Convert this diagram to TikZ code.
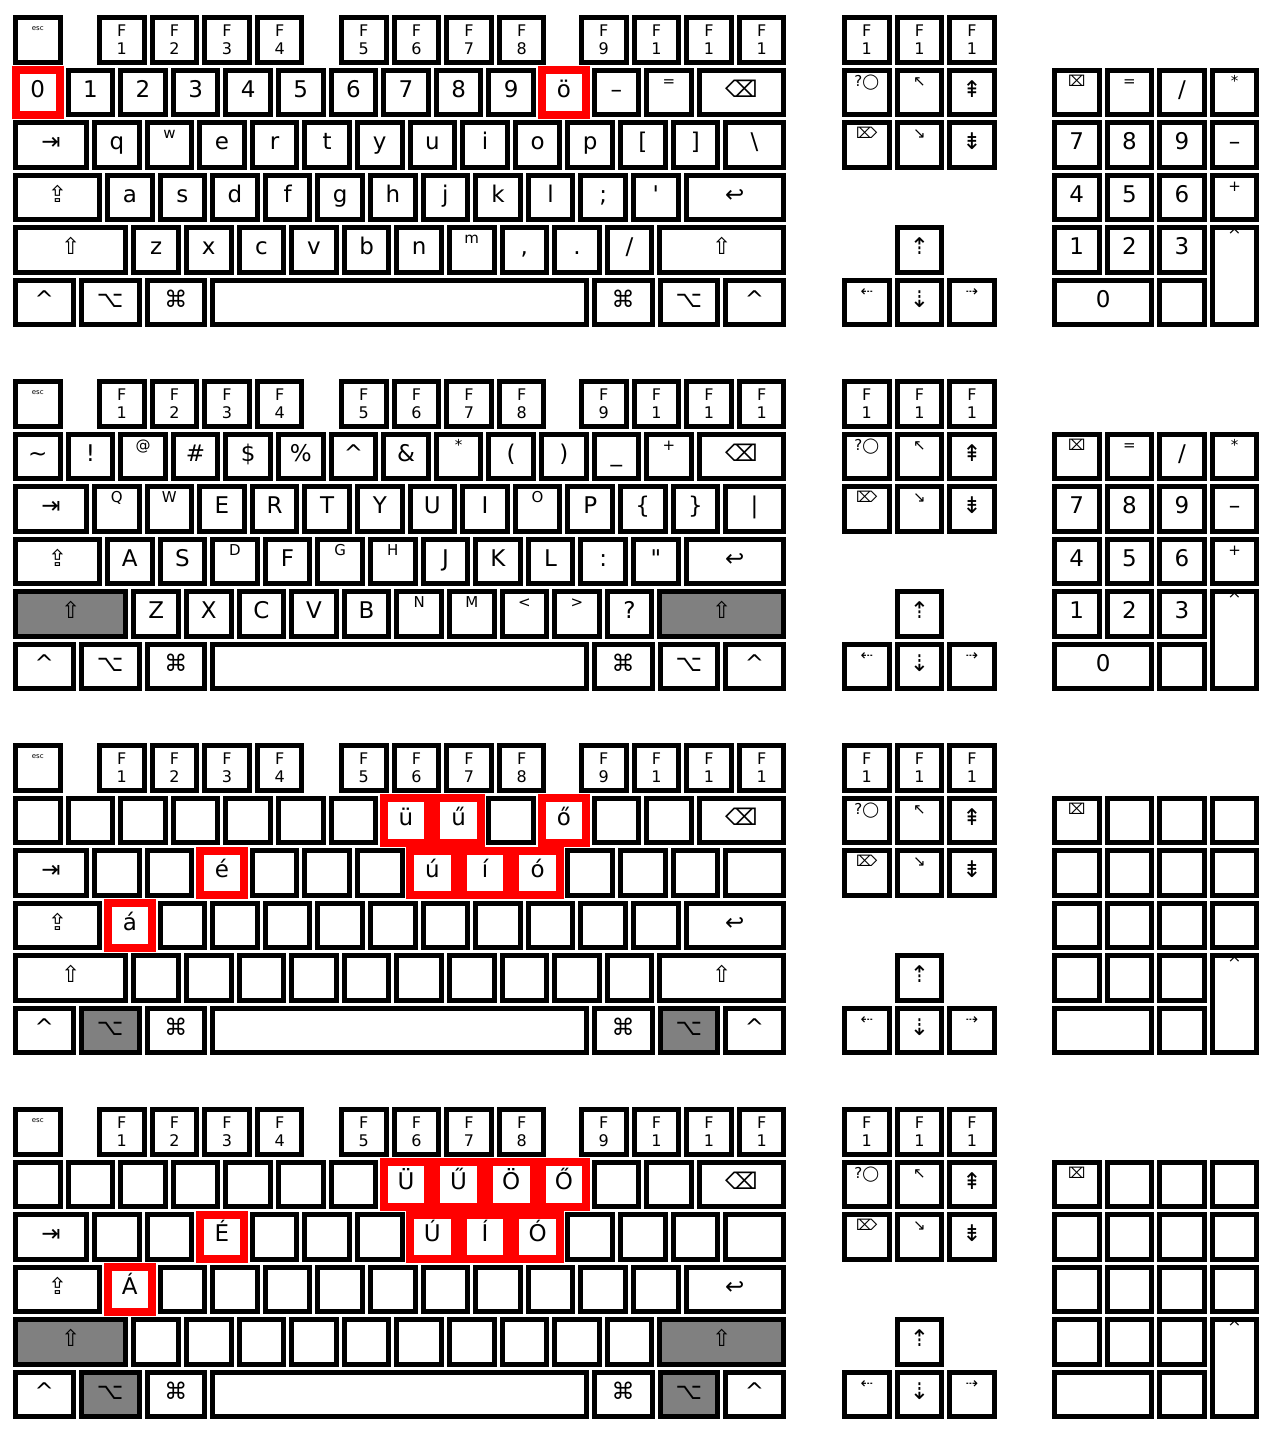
\documentclass[tikz,border=0pt]{standalone}
\usepackage{fontspec}
\setmainfont{DejaVu Sans}
\tikzset{
  key/.style={draw,line width=5pt,fill=white,inner sep=0pt,
    font=\fontsize{23}{23}\selectfont,text height=12pt,text depth=2pt},
  kw/.style={},
  kr/.style={draw=red,line width=8pt},
  kg/.style={fill=gray},
  hi/.style={font=\fontsize{15}{15}\selectfont,text height=0pt,text depth=12pt},
  fn/.style={font=\fontsize{16}{18}\selectfont,align=center,text height=,text depth=},
  esclab/.style={font=\fontsize{7}{7}\selectfont,text height=0pt,text depth=18pt}
}
\def\kp{52.6}
\def\rp{52.5}
\def\ks{49.6}
% style, name, left, top, width, height, label
\newcommand\keynode[7]{%
  \node[key,#1,minimum width={(#5)-5},minimum height={(#6)-5}] (#2) at ({(#3)+(#5)/2},{(#4)+(#6)/2}) {#7};}
\newcommand\krow[4]{%
  \foreach \lab/\sty [count=\i from 0] in {#4}{\keynode{\sty}{#1\i}{#2+\i*\kp}{#3}{\ks}{\ks}{\lab}}}
\newcommand\numpad[4]{%
  \foreach \lab/\sty [count=\i from 0] in {#3}{%
    \pgfmathsetmacro\cl{mod(\i,4)}%
    \pgfmathsetmacro\rw{int(\i/4)+1}%
    \keynode{\sty}{#2n\i}{1052+\cl*\kp}{#1+\rw*\rp}{\ks}{\ks}{\lab}}
  \keynode{kw}{#2zero}{1052}{#1+5*\rp}{102.2}{\ks}{#4}
  \keynode{kw}{#2dot}{1157.2}{#1+5*\rp}{\ks}{\ks}{}
  \keynode{hi,text depth=78pt}{#2ent}{1209.8}{#1+4*\rp}{\ks}{\rp+\ks}{⌤}}
% top, prefix, shift style, option style
\newcommand\board[4]{%
  \keynode{esclab}{#2esc}{13}{#1}{\ks}{\ks}{esc}
  \foreach \fk/\x [count=\i] in {1/97,2/149.6,3/202.2,4/254.8,5/339,6/391.6,7/444.2,8/496.8,9/579,1/631.6,1/684.2,1/736.8}{%
    \keynode{fn}{#2f\i}{\x}{#1}{\ks}{\ks}{F\\\fk}}
  \foreach \x [count=\i] in {842,894.6,947.2}{\keynode{fn}{#2g\i}{\x}{#1}{\ks}{\ks}{F\\1}}
  \foreach \lab/\sty/\x [count=\i] in {?◯/hi/842,↖/hi/894.6,⇞/kw/947.2}{\keynode{\sty}{#2h\i}{\x}{#1+\rp}{\ks}{\ks}{\lab}}
  \foreach \lab/\sty/\x [count=\i] in {⌦/hi/842,↘/hi/894.6,⇟/kw/947.2}{\keynode{\sty}{#2e\i}{\x}{#1+2*\rp}{\ks}{\ks}{\lab}}
  \keynode{kw}{#2up}{894.6}{#1+4*\rp}{\ks}{\ks}{⇡}
  \keynode{hi}{#2left}{842}{#1+5*\rp}{\ks}{\ks}{⇠}
  \keynode{kw}{#2down}{894.6}{#1+5*\rp}{\ks}{\ks}{⇣}
  \keynode{hi}{#2right}{947.2}{#1+5*\rp}{\ks}{\ks}{⇢}
  \keynode{kw}{#2bsp}{696.8}{#1+\rp}{89.2}{\ks}{⌫}
  \keynode{kw}{#2tab}{13}{#1+2*\rp}{76}{\ks}{⇥}
  \keynode{kw}{#2caps}{13}{#1+3*\rp}{89}{\ks}{⇪}
  \keynode{kw}{#2ret}{683.6}{#1+3*\rp}{102.4}{\ks}{↩}
  \keynode{#3}{#2lsh}{13}{#1+4*\rp}{115.35}{\ks}{⇧}
  \keynode{#3}{#2rsh}{657.35}{#1+4*\rp}{128.65}{\ks}{⇧}
  \keynode{kw}{#2lctl}{13}{#1+5*\rp}{62.75}{\ks}{\textasciicircum}
  \keynode{#4}{#2lalt}{78.75}{#1+5*\rp}{62.75}{\ks}{⌥}
  \keynode{kw}{#2lcmd}{144.5}{#1+5*\rp}{62.75}{\ks}{⌘}
  \keynode{kw}{#2space}{210.25}{#1+5*\rp}{378.5}{\ks}{}
  \keynode{kw}{#2rcmd}{591.75}{#1+5*\rp}{62.75}{\ks}{⌘}
  \keynode{#4}{#2ralt}{657.5}{#1+5*\rp}{62.75}{\ks}{⌥}
  \keynode{kw}{#2rctl}{723.25}{#1+5*\rp}{62.75}{\ks}{\textasciicircum}}
\begin{document}
\begin{tikzpicture}[x=1pt,y=-1pt]
\useasboundingbox (0,0) rectangle (1274,1435);
% lower case
\board{15}{a}{kw}{kw}
\krow{a1-}{13}{15+\rp}{0/kr,1/kw,2/kw,3/kw,4/kw,5/kw,6/kw,7/kw,8/kw,9/kw,ö/kr,–/kw,=/hi}
\krow{a2-}{92}{15+2*\rp}{q/kw,w/hi,e/kw,r/kw,t/kw,y/kw,u/kw,i/kw,o/kw,p/kw,{[}/kw,{]}/kw}
\keynode{kw}{a2-bsl}{723.2}{15+2*\rp}{62.8}{\ks}{\textbackslash}
\krow{a3-}{105}{15+3*\rp}{a/kw,s/kw,d/kw,f/kw,g/kw,h/kw,j/kw,k/kw,l/kw,;/kw,\textquotesingle/kw}
\krow{a4-}{131.35}{15+4*\rp}{z/kw,x/kw,c/kw,v/kw,b/kw,n/kw,m/hi,{,}/kw,./kw,{/}/kw}
\numpad{15}{a}{⌧/hi,=/hi,{/}/kw,*/hi,7/kw,8/kw,9/kw,–/kw,4/kw,5/kw,6/kw,+/hi,1/kw,2/kw,3/kw}{0}
% shift
\board{379}{b}{kg}{kw}
\krow{b1-}{13}{379+\rp}{\textasciitilde/kw,!/kw,@/hi,\#/kw,\$/kw,\%/kw,\textasciicircum/kw,\&/kw,*/hi,{(}/kw,{)}/kw,\_/kw,+/hi}
\krow{b2-}{92}{379+2*\rp}{Q/hi,W/hi,E/kw,R/kw,T/kw,Y/kw,U/kw,I/kw,O/hi,P/kw,\{/kw,\}/kw}
\keynode{kw}{b2-bsl}{723.2}{379+2*\rp}{62.8}{\ks}{|}
\krow{b3-}{105}{379+3*\rp}{A/kw,S/kw,D/hi,F/kw,G/hi,H/hi,J/kw,K/kw,L/kw,:/kw,\textquotedbl/kw}
\krow{b4-}{131.35}{379+4*\rp}{Z/kw,X/kw,C/kw,V/kw,B/kw,N/hi,M/hi,</hi,>/hi,?/kw}
\numpad{379}{b}{⌧/hi,=/hi,{/}/kw,*/hi,7/kw,8/kw,9/kw,–/kw,4/kw,5/kw,6/kw,+/hi,1/kw,2/kw,3/kw}{0}
% option
\board{743}{c}{kw}{kg}
\krow{c1-}{13}{743+\rp}{/kw,/kw,/kw,/kw,/kw,/kw,/kw,ü/kr,ű/kr,/kw,ő/kr,/kw,/kw}
\krow{c2-}{92}{743+2*\rp}{/kw,/kw,é/kr,/kw,/kw,/kw,ú/kr,í/kr,ó/kr,/kw,/kw,/kw}
\keynode{kw}{c2-bsl}{723.2}{743+2*\rp}{62.8}{\ks}{}
\krow{c3-}{105}{743+3*\rp}{á/kr,/kw,/kw,/kw,/kw,/kw,/kw,/kw,/kw,/kw,/kw}
\krow{c4-}{131.35}{743+4*\rp}{/kw,/kw,/kw,/kw,/kw,/kw,/kw,/kw,/kw,/kw}
\numpad{743}{c}{⌧/hi,/kw,/kw,/kw,/kw,/kw,/kw,/kw,/kw,/kw,/kw,/kw,/kw,/kw,/kw}{}
% shift + option
\board{1107}{d}{kg}{kg}
\krow{d1-}{13}{1107+\rp}{/kw,/kw,/kw,/kw,/kw,/kw,/kw,Ü/kr,Ű/kr,Ö/kr,Ő/kr,/kw,/kw}
\krow{d2-}{92}{1107+2*\rp}{/kw,/kw,É/kr,/kw,/kw,/kw,Ú/kr,Í/kr,Ó/kr,/kw,/kw,/kw}
\keynode{kw}{d2-bsl}{723.2}{1107+2*\rp}{62.8}{\ks}{}
\krow{d3-}{105}{1107+3*\rp}{Á/kr,/kw,/kw,/kw,/kw,/kw,/kw,/kw,/kw,/kw,/kw}
\krow{d4-}{131.35}{1107+4*\rp}{/kw,/kw,/kw,/kw,/kw,/kw,/kw,/kw,/kw,/kw}
\numpad{1107}{d}{⌧/hi,/kw,/kw,/kw,/kw,/kw,/kw,/kw,/kw,/kw,/kw,/kw,/kw,/kw,/kw}{}
\end{tikzpicture}
\end{document}
